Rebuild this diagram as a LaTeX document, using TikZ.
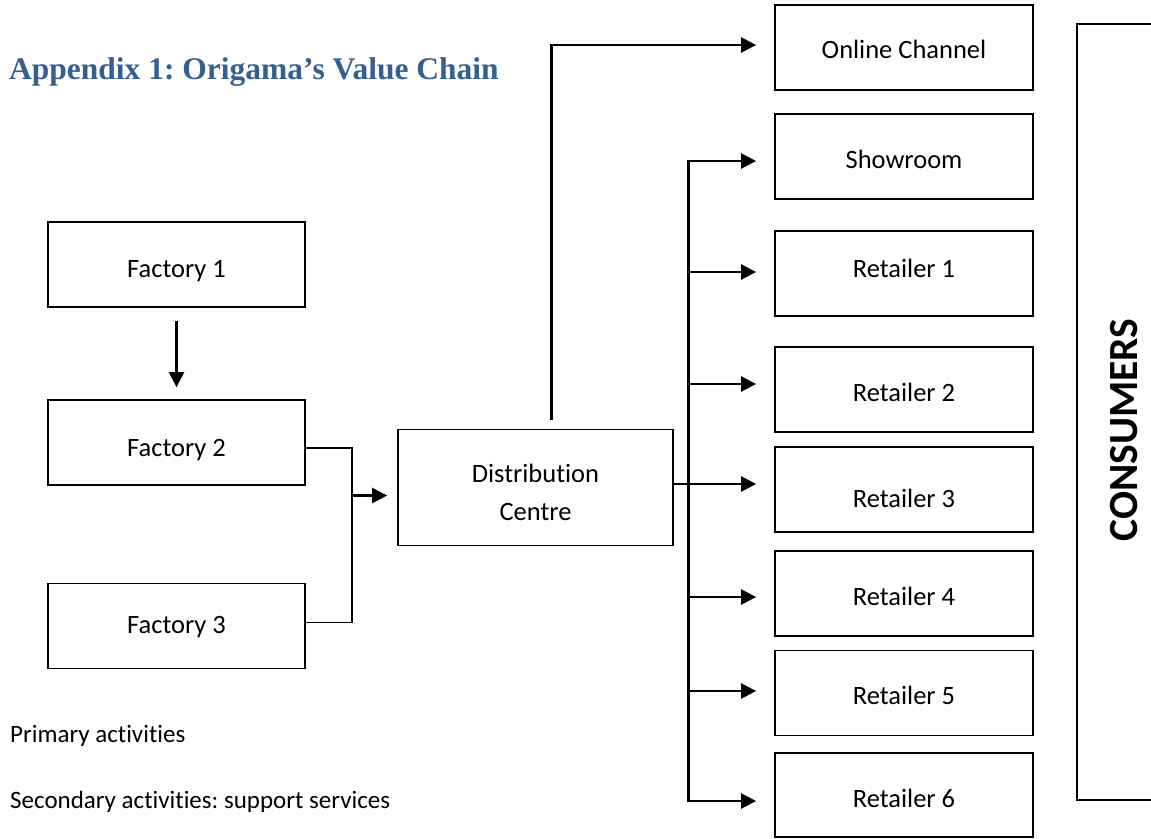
\documentclass[tikz,border=0pt]{standalone}
\usepackage{fontspec}
\setmainfont{Carlito}[Ligatures=NoCommon]
\newfontfamily\titlefont{Liberation Serif}
\usetikzlibrary{arrows.meta}
\definecolor{headblue}{RGB}{54,95,145}
\frenchspacing
\tikzset{
  box/.style={draw, line width=1.8pt, minimum width=257pt, minimum height=85pt, inner sep=0pt, text depth=6pt, font=\fontsize{26.5}{32}\selectfont},
  th/.style={text height=#1pt},
  arr/.style={line width=2.5pt, -{Triangle[length=15pt,width=15pt]}},
  conn/.style={line width=1.8pt},
  plain/.style={font=\fontsize{25}{30}\selectfont, anchor=base west, inner sep=0pt}
}
\begin{document}
\begin{tikzpicture}[x=1pt,y=-1pt]
\useasboundingbox (0,0) rectangle (1151,838);
\clip (0,0) rectangle (1151,838);
\fill[white] (0,0) rectangle (1151,838);

\node[anchor=base west, inner sep=0pt, text=headblue, font=\titlefont\bfseries\fontsize{31.5}{36}\selectfont] (title) at (9,79) {Appendix 1: Origama’s Value Chain};

\node[box, th=32] (f1) at (176.5,264.5) {Factory 1};
\node[box, th=33] (f2) at (176.5,442.5) {Factory 2};
\node[box, th=21] (f3) at (176.5,626) {Factory 3};
\node[box, minimum width=275pt, minimum height=116pt, align=center, text height=71pt, font=\fontsize{26.5}{38}\selectfont] (dc) at (535.5,487.5) {Distribution\\Centre};

\node[box, minimum width=258pt, th=28] (on) at (904,47.5) {Online Channel};
\node[box, minimum width=258pt, th=30] (sh) at (904,156.5) {Showroom};
\node[box, minimum width=258pt, th=14] (r1) at (904,273.5) {Retailer 1};
\node[box, minimum width=258pt, th=30] (r2) at (904,389.5) {Retailer 2};
\node[box, minimum width=258pt, th=42] (r3) at (904,489.5) {Retailer 3};
\node[box, minimum width=258pt, th=30] (r4) at (904,593.5) {Retailer 4};
\node[box, minimum width=258pt, th=28] (r5) at (904,693) {Retailer 5};
\node[box, minimum width=258pt, minimum height=84pt, th=31] (r6) at (904,795) {Retailer 6};

\draw[line width=1.8pt] (1077,24) rectangle (1200,800);
\node[rotate=90, font=\bfseries\fontsize{41.5}{46}\selectfont] (cons) at (1124.5,430) {CONSUMERS};

\node[plain] (prim) at (10,742) {Primary activities};
\node[plain] (sec) at (10,808) {Secondary activities: support services};

% factory connectors
\draw[arr] ([yshift=-13pt]f1.south) -- ([yshift=12pt]f2.north);
\draw[conn] ([yshift=-5.5pt]f2.east) -| (352,622.5) -- ([yshift=3.5pt]f3.east);
\coordinate (j) at (352,495.5);
\draw[arr] (j) -- ([xshift=-10pt,yshift=-8pt]dc.west);

% distribution to online
\draw[arr] ([xshift=16pt,yshift=9pt]dc.north) |- ([xshift=-18pt,yshift=2.5pt]on.west);

% distribution to bus
\coordinate (bt) at (688,161);
\coordinate (bb) at (688,801);
\draw[conn] ([yshift=3.5pt]dc.east) -- (688,484);
\draw[line width=3pt] (bt) -- (bb);
\draw[arr] (bb) |- ([xshift=-18pt]sh.west |- bt);
\draw[arr] (bt) |- ([xshift=-18pt]r6.west |- bb);
\draw[arr] (688,272) -- ([xshift=-18pt]r1.west |- 0,272);
\draw[arr] (688,384) -- ([xshift=-18pt]r2.west |- 0,384);
\draw[arr] (688,484) -- ([xshift=-18pt]r3.west |- 0,484);
\draw[arr] (688,597) -- ([xshift=-18pt]r4.west |- 0,597);
\draw[arr] (688,691) -- ([xshift=-18pt]r5.west |- 0,691);
\end{tikzpicture}
\end{document}
